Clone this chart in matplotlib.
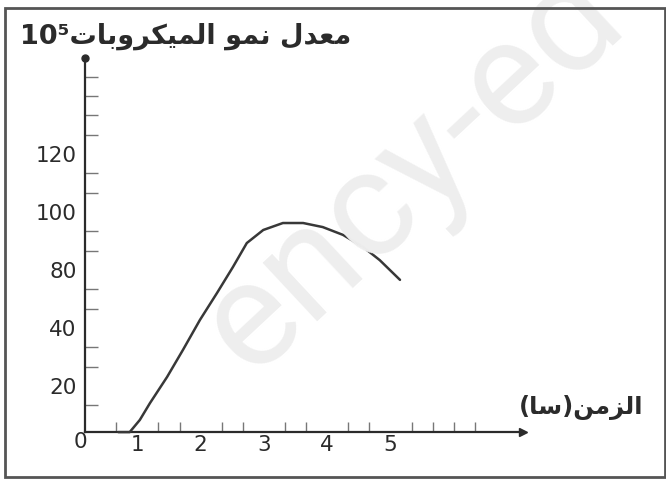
import numpy as np
import matplotlib.pyplot as plt
from matplotlib.patches import Rectangle

# growth curve (time in hours, rate on the drawn scale)
time_h = [0.70, 0.88, 1.04, 1.20, 1.47, 1.72, 1.99, 2.26, 2.51, 2.73, 2.99,
          3.30, 3.62, 3.93, 4.25, 4.57, 4.83, 5.15]
growth = [4.1, 4.1, 8.3, 14.1, 23.1, 32.4, 42.8, 52.1, 61.0, 69.3, 73.8,
          76.2, 76.2, 74.8, 72.1, 67.9, 63.4, 56.6]

x_ticks = [1, 2, 3, 4, 5]
x_tick_labels = ["1", "2", "3", "4", "5"]
y_ticks = [20, 40, 60, 80, 100]
y_tick_labels = ["20", "40", "80", "100", "120"]

y_title = "معدل نمو الميكروبات"
x_title = "الزمن(سا)"
watermark = "ency-ed"

FORMS = {
    'ا': ('\uFE8D', '\uFE8E', None, None),
    'ب': ('\uFE8F', '\uFE90', '\uFE91', '\uFE92'),
    'ت': ('\uFE95', '\uFE96', '\uFE97', '\uFE98'),
    'د': ('\uFEA9', '\uFEAA', None, None),
    'ر': ('\uFEAD', '\uFEAE', None, None),
    'ز': ('\uFEAF', '\uFEB0', None, None),
    'س': ('\uFEB1', '\uFEB2', '\uFEB3', '\uFEB4'),
    'ع': ('\uFEC9', '\uFECA', '\uFECB', '\uFECC'),
    'ك': ('\uFED9', '\uFEDA', '\uFEDB', '\uFEDC'),
    'ل': ('\uFEDD', '\uFEDE', '\uFEDF', '\uFEE0'),
    'م': ('\uFEE1', '\uFEE2', '\uFEE3', '\uFEE4'),
    'ن': ('\uFEE5', '\uFEE6', '\uFEE7', '\uFEE8'),
    'و': ('\uFEED', '\uFEEE', None, None),
    'ي': ('\uFEF1', '\uFEF2', '\uFEF3', '\uFEF4'),
}


def shape(text):
    """Join arabic letters and put them in visual (left to right) order"""
    out = []
    for i, ch in enumerate(text):
        if ch not in FORMS:
            out.append(ch)
            continue
        prev = text[i - 1] if i > 0 else ''
        nxt = text[i + 1] if i + 1 < len(text) else ''
        join_prev = prev in FORMS and FORMS[prev][2] is not None
        join_next = nxt in FORMS and FORMS[ch][2] is not None
        iso, fin, ini, med = FORMS[ch]
        if join_prev and join_next:
            out.append(med)
        elif join_prev:
            out.append(fin)
        elif join_next:
            out.append(ini)
        else:
            out.append(iso)
    vis = ''.join(out)[::-1]
    return vis.translate(str.maketrans('()', ')('))


W, H = 666, 479
fig = plt.figure(figsize=(W / 100, H / 100), dpi=100)
fig.patch.set_facecolor('white')

# axes box in pixels: x=0 at 74px, y=0 at 444px
x_unit, y_unit = 63.3, 2.9
left_px, right_px, top_px, bottom_px = 74, 530, 50, 444
ax = fig.add_axes([left_px / W, (H - bottom_px) / H,
                   (right_px - left_px) / W, (bottom_px - top_px) / H])
ax.set_xlim(0, (right_px - left_px) / x_unit)
ax.set_ylim(0, (bottom_px - top_px) / y_unit)
ax.patch.set_alpha(0)

x_axis_y = (bottom_px - 432) / y_unit
y_axis_x = (85 - left_px) / x_unit
x_end = (523 - left_px) / x_unit
y_end = (bottom_px - 58) / y_unit

# watermark behind everything
fig.text(250 / W, 1 - 378 / H, watermark, rotation=43, rotation_mode='anchor',
         ha='left', va='baseline', fontsize=108, family='Roboto',
         color='#eeeeee', zorder=0)

ink = '#2b2b2b'
for s in ['top', 'right']:
    ax.spines[s].set_visible(False)
ax.spines['left'].set_position(('data', y_axis_x))
ax.spines['left'].set_bounds(x_axis_y, y_end)
ax.spines['bottom'].set_position(('data', x_axis_y))
ax.spines['bottom'].set_bounds(y_axis_x, x_end)
for s in ['left', 'bottom']:
    ax.spines[s].set_linewidth(1.6)
    ax.spines[s].set_color(ink)
ax.plot(x_end, x_axis_y, marker='>', ms=6, color=ink, clip_on=False)
ax.plot(y_axis_x, y_end, marker='o', ms=5, color=ink, clip_on=False)

ax.set_xticks(x_ticks)
ax.set_xticklabels(x_tick_labels)
ax.set_yticks(y_ticks)
ax.set_yticklabels(y_tick_labels)
ax.set_xticks([k / 3 for k in range(2, 20)], minor=True)
ax.set_yticks([k * 20 / 3 for k in range(2, 20)], minor=True)
ax.tick_params(which='major', length=0, labelsize=15.5, colors=ink)
ax.tick_params(axis='x', which='major', pad=2)
ax.tick_params(axis='y', which='major', pad=6)
ax.tick_params(which='minor', direction='in', width=1, color='#777777')
ax.tick_params(axis='x', which='minor', length=7)
ax.tick_params(axis='y', which='minor', length=9)
ax.text((80 - left_px) / x_unit, (bottom_px - 442) / y_unit, "0",
        ha='center', va='center', fontsize=15.5, color=ink)

ax.plot(time_h, growth, color='#383838', lw=1.8, solid_capstyle='round',
        solid_joinstyle='round', zorder=3)

fig.text(20 / W, 1 - 36 / H, "10\u2075" + shape(y_title), ha='left',
         va='center', fontsize=19.5, fontweight='bold', color=ink)
fig.text(643 / W, 1 - 407 / H, shape(x_title), ha='right', va='center',
         fontsize=17.5, fontweight='bold', color=ink)

fig.patches.append(Rectangle((5 / W, 2 / H), 660 / W, 469 / H,
                             transform=fig.transFigure, fill=False,
                             edgecolor='#555555', lw=2))

plt.savefig('out.png', dpi=100)
